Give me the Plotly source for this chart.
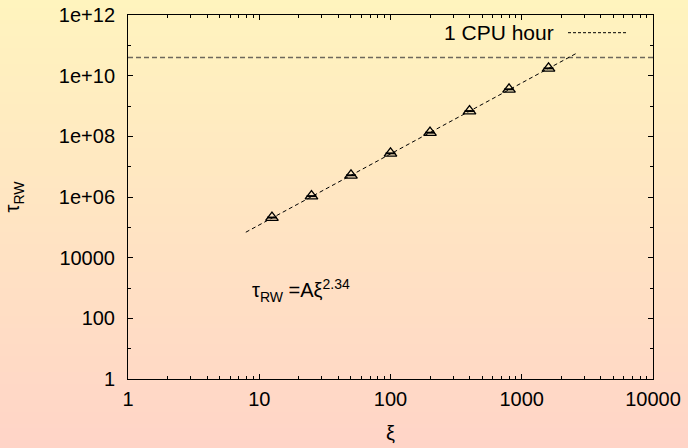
import plotly.graph_objects as go

# ---- data ----
xi = [12.5, 25, 50, 100, 200, 400, 800, 1600]
tau_rw = [2.1e5, 1.07e6, 5.2e6, 2.75e7, 1.32e8, 6.8e8, 3.55e9, 1.74e10]
fit_xi = [7.9, 2670]
fit_tau = [6.9e4, 5.75e10]
cpu_xi = [1, 10000]
cpu_hour = [4.0e10, 4.0e10]
x_tickvals = [1, 10, 100, 1000, 10000]
x_ticktext = ["1", "10", "100", "1000", "10000"]
y_tickvals = [1, 1e2, 1e4, 1e6, 1e8, 1e10, 1e12]
y_ticktext = ["1", "100", "10000", "1e+06", "1e+08", "1e+10", "1e+12"]
x_minor = [m * 10 ** k for k in range(4) for m in range(2, 10)]
y_minor = [10 ** k for k in range(1, 12, 2)]

W, H = 688, 448
L, R, T, B = 128, 35, 15, 69
pw, ph = W - L - R, H - T - B
FONT = "Liberation Sans, Arial, sans-serif"
FS = 20

def px2paper_x(px):
    return (px - L) / pw

def px2paper_y(py):
    return (H - B - py) / ph

# background gradient bands (top pale yellow -> bottom pink)
top = (255, 244, 190)
bot = (255, 212, 199)
shapes = []
N = 112
for i in range(N):
    t = (i + 0.5) / N
    c = tuple(round(top[k] + (bot[k] - top[k]) * t) for k in range(3))
    y0px = H * i / N - (20 if i == 0 else 0)
    y1px = H * (i + 1) / N + (0.6 if i < N - 1 else 40)
    shapes.append(dict(type="rect", xref="paper", yref="paper",
                       x0=px2paper_x(-40), x1=px2paper_x(W + 40),
                       y0=px2paper_y(y1px), y1=px2paper_y(y0px),
                       fillcolor="rgb(%d,%d,%d)" % c, line=dict(width=0),
                       layer="below"))
# legend sample line
shapes.append(dict(type="line", xref="paper", yref="paper",
                   x0=px2paper_x(568), x1=px2paper_x(626),
                   y0=px2paper_y(32.7), y1=px2paper_y(32.7),
                   line=dict(color="black", width=1, dash="3px,2px")))

fig = go.Figure()
fig.add_trace(go.Scatter(x=cpu_xi, y=cpu_hour, mode="lines", name="1 CPU hour",
                         line=dict(color="#6e685c", width=1.5, dash="5px,3px"),
                         showlegend=False))
fig.add_trace(go.Scatter(x=fit_xi, y=fit_tau, mode="lines", name="fit",
                         line=dict(color="black", width=1, dash="4px,3px"),
                         showlegend=False))
fig.add_trace(go.Scatter(x=xi, y=tau_rw, mode="markers", name="data",
                         marker=dict(symbol="triangle-up-open", size=11, color="black",
                                     line=dict(width=1.3, color="black")),
                         showlegend=False))
fig.add_trace(go.Scatter(x=xi, y=tau_rw, mode="markers", name="data bars",
                         marker=dict(symbol="line-ew", size=7, color="black",
                                     line=dict(width=2, color="black")),
                         showlegend=False, hoverinfo="skip"))

axis_common = dict(showline=True, linecolor="black", linewidth=1, mirror="ticks",
                   ticks="inside", ticklen=5, tickcolor="black", tickwidth=1,
                   showgrid=False, zeroline=False, automargin=False,
                   tickfont=dict(family=FONT, size=FS, color="black"))

fig.update_layout(
    width=W, height=H, autosize=False,
    margin=dict(l=L, r=R, t=T, b=B, pad=0, autoexpand=False),
    paper_bgcolor="rgb(255,230,195)",
    plot_bgcolor="rgba(0,0,0,0)",
    shapes=shapes,
    xaxis=dict(type="log", range=[0, 4], tickmode="array",
               tickvals=x_tickvals, ticktext=x_ticktext,
               minor=dict(tickmode="array", tickvals=x_minor, ticks="inside",
                          ticklen=3, tickcolor="black"),
               title=dict(text="ξ", font=dict(family=FONT, size=FS, color="black"),
                          standoff=16),
               ticklabelstandoff=2,
               **axis_common),
    yaxis=dict(type="log", range=[0, 12], tickmode="array",
               tickvals=y_tickvals, ticktext=y_ticktext,
               minor=dict(tickmode="array", tickvals=y_minor, ticks="inside",
                          ticklen=3, tickcolor="black"),
               title=dict(text="τ<sub>RW</sub>", font=dict(family=FONT, size=FS, color="black"),
                          standoff=33),
               ticklabelstandoff=8,
               **axis_common),
    annotations=[
        dict(text="1 CPU hour", xref="paper", yref="paper",
             x=px2paper_x(556), y=px2paper_y(32.7), xanchor="right", yanchor="middle",
             showarrow=False, font=dict(family=FONT, size=FS + 1, color="black")),
        dict(text="τ<sub>RW</sub> =Aξ<sup>2.34</sup>", xref="paper", yref="paper",
             x=px2paper_x(250), y=px2paper_y(290), xanchor="left", yanchor="middle",
             showarrow=False, font=dict(family=FONT, size=FS, color="black")),
    ],
)

post = ("document.documentElement.style.margin='0';"
        "document.body.style.margin='0';"
        "document.documentElement.style.overflow='hidden';"
        "document.body.style.overflow='hidden';"
        "document.body.style.background='linear-gradient(rgb(255,244,190), rgb(255,212,199))';")
fig.write_html("out.html", post_script=post, config={"responsive": False})
